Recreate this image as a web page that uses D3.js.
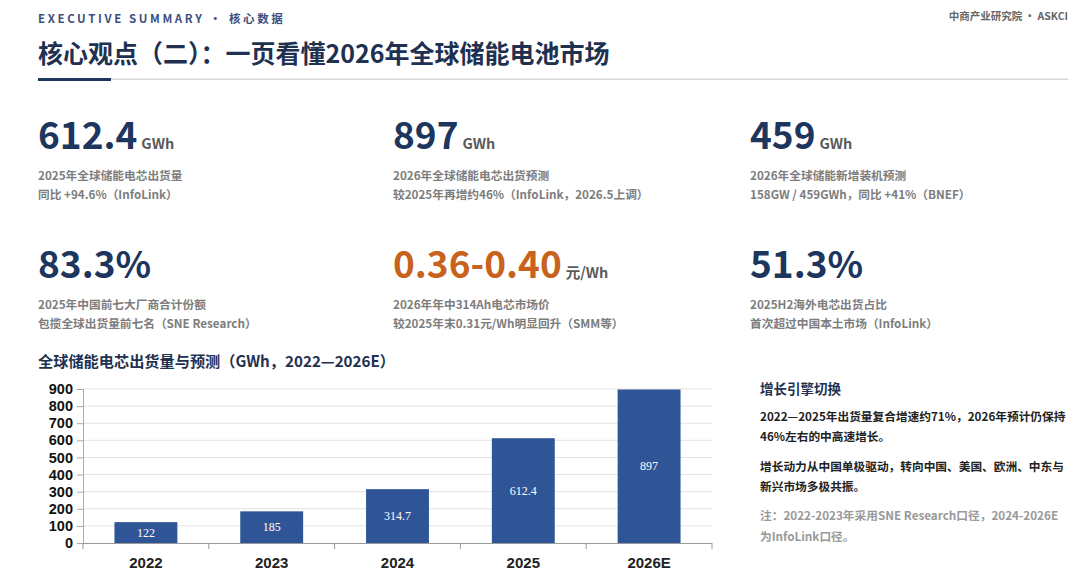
<!DOCTYPE html>
<html>
<head>
<meta charset="utf-8">
<script src="https://cdn.jsdelivr.net/npm/d3@7"></script>
<style>
  body { margin: 0; background: #fff; }
  svg { display: block; font-family: 'Noto Sans CJK SC', 'Noto Sans', sans-serif; }
</style>
</head>
<body>
<div id="page"></div>
<script>
// chart data
const years = ['2022', '2023', '2024', '2025', '2026E']
const shipments = [122, 185, 314.7, 612.4, 897]
const yTicks = [0, 100, 200, 300, 400, 500, 600, 700, 800, 900]

// kpi cards
const kpiValues = ['612.4', '897', '459', '83.3%', '0.36-0.40', '51.3%']
const kpiUnits = ['GWh', 'GWh', 'GWh', '', '元/Wh', '']
const kpiLine1 = [
    '2025年全球储能电芯出货量',
    '2026年全球储能电芯出货预测',
    '2026年全球储能新增装机预测',
    '2025年中国前七大厂商合计份额',
    '2026年年中314Ah电芯市场价',
    '2025H2海外电芯出货占比'
]
const kpiLine2 = [
    '同比 +94.6%（InfoLink）',
    '较2025年再增约46%（InfoLink，2026.5上调）',
    '158GW / 459GWh，同比 +41%（BNEF）',
    '包揽全球出货量前七名（SNE Research）',
    '较2025年末0.31元/Wh明显回升（SMM等）',
    '首次超过中国本土市场（InfoLink）'
]

const sideTitle = '增长引擎切换'
const sideLines = [
    '2022—2025年出货量复合增速约71%，2026年预计仍保持',
    '46%左右的中高速增长。',
    '增长动力从中国单极驱动，转向中国、美国、欧洲、中东与',
    '新兴市场多极共振。'
]
const noteLines = [
    '注：2022-2023年采用SNE Research口径，2024-2026E',
    '为InfoLink口径。'
]

const navy = '#1c365e'
const svg = d3.select('#page').append('svg')
    .attr('width', 1080)
    .attr('height', 581)

// header
svg.append('text')
    .attr('x', 38).attr('y', 23)
    .text('EXECUTIVE SUMMARY · 核心数据')
    .style('font-size', '11.5px')
    .style('font-weight', 'bold')
    .style('letter-spacing', '2.6px')
    .attr('fill', '#3d5080')

svg.append('text')
    .attr('x', 1068).attr('y', 20)
    .attr('text-anchor', 'end')
    .text('中商产业研究院 · ASKCI')
    .style('font-size', '10.5px')
    .style('font-weight', 'bold')
    .attr('fill', '#666')

svg.append('text')
    .attr('x', 38).attr('y', 63)
    .text('核心观点（二）：一页看懂2026年全球储能电池市场')
    .style('font-size', '25px')
    .style('font-weight', 'bold')
    .attr('fill', '#1f3150')

svg.append('rect')
    .attr('x', 38).attr('y', 78.5)
    .attr('width', 1030).attr('height', 1.5)
    .attr('fill', '#d6d6d6')
svg.append('rect')
    .attr('x', 38).attr('y', 78)
    .attr('width', 73).attr('height', 3)
    .attr('fill', navy)

// kpi cards
const colX = [38, 393, 750]
const rowY = [149, 278]
kpiValues.forEach((v, i) => {
    let g = svg.append('g')
        .attr('transform', `translate (${colX[i % 3]}, ${rowY[Math.floor(i / 3)]})`)
    let big = g.append('text')
    big.append('tspan')
        .text(v)
        .style('font-size', '37px')
        .style('font-weight', 'bold')
        .attr('fill', i === 4 ? '#c8621c' : navy)
    if (kpiUnits[i]) {
        big.append('tspan')
            .attr('dx', 4)
            .text(kpiUnits[i])
            .style('font-size', '14.5px')
            .style('font-weight', 'bold')
            .attr('fill', '#5a5a5a')
    }
    g.append('text')
        .attr('y', 31)
        .text(kpiLine1[i])
        .style('font-size', '11.7px')
        .style('font-weight', 'bold')
        .attr('fill', '#7d7d7d')
    g.append('text')
        .attr('y', 50)
        .text(kpiLine2[i])
        .style('font-size', '11.7px')
        .style('font-weight', 'bold')
        .attr('fill', '#7d7d7d')
})

// bar chart
svg.append('text')
    .attr('x', 38).attr('y', 367)
    .text('全球储能电芯出货量与预测（GWh，2022—2026E）')
    .style('font-size', '15.2px')
    .style('font-weight', 'bold')
    .attr('fill', '#1f3150')

const x = d3.scaleBand()
    .domain(years)
    .range([83, 712])
    .paddingInner(0.5)
    .paddingOuter(0.25)
const y = d3.scaleLinear()
    .domain([0, 900])
    .range([543, 389])

const chart = svg.append('g')

chart.append('g')
    .selectAll('line')
    .data(yTicks.slice(1))
    .join('line')
    .attr('x1', 83).attr('x2', 712)
    .attr('y1', d => y(d)).attr('y2', d => y(d))
    .attr('stroke', '#e2e2e2')

let yAxis = chart.append('g')
    .attr('transform', 'translate (83, 0)')
    .call(d3.axisLeft(y).tickValues(yTicks).tickSize(6).tickPadding(4))
yAxis.select('.domain').attr('stroke', '#aaa')
yAxis.selectAll('.tick line').attr('stroke', '#aaa')
yAxis.selectAll('.tick text')
    .style('font-family', "'Liberation Sans', Arial, sans-serif")
    .style('font-size', '14.5px')
    .style('font-weight', 'bold')
    .attr('fill', '#111')

chart.append('g')
    .selectAll('rect')
    .data(shipments)
    .join('rect')
    .attr('x', (d, i) => x(years[i]))
    .attr('y', d => y(d))
    .attr('width', x.bandwidth())
    .attr('height', d => y(0) - y(d))
    .attr('fill', '#2f5597')

chart.append('g')
    .selectAll('text')
    .data(shipments)
    .join('text')
    .attr('x', (d, i) => x(years[i]) + x.bandwidth() / 2)
    .attr('y', d => (y(d) + y(0)) / 2)
    .attr('text-anchor', 'middle')
    .attr('dominant-baseline', 'central')
    .text(d => d)
    .style('font-family', "'Liberation Serif', 'Times New Roman', serif")
    .style('font-size', '12px')
    .attr('fill', '#fff')

// x axis with ticks on band boundaries
chart.append('line')
    .attr('x1', 83).attr('x2', 712)
    .attr('y1', 543.5).attr('y2', 543.5)
    .attr('stroke', '#999')
chart.append('g')
    .selectAll('line')
    .data(d3.range(years.length + 1))
    .join('line')
    .attr('x1', i => 83 + i * x.step()).attr('x2', i => 83 + i * x.step())
    .attr('y1', 543).attr('y2', 549)
    .attr('stroke', '#999')
chart.append('g')
    .selectAll('text')
    .data(years)
    .join('text')
    .attr('x', d => x(d) + x.bandwidth() / 2)
    .attr('y', 568)
    .attr('text-anchor', 'middle')
    .text(d => d)
    .style('font-family', "'Liberation Sans', Arial, sans-serif")
    .style('font-size', '15px')
    .style('font-weight', 'bold')
    .attr('fill', '#222')

// side notes
svg.append('text')
    .attr('x', 760).attr('y', 394)
    .text(sideTitle)
    .style('font-size', '13.5px')
    .style('font-weight', 'bold')
    .attr('fill', '#1f3150')

const sideY = [421, 441, 471, 491]
sideLines.forEach((t, i) => {
    svg.append('text')
        .attr('x', 760).attr('y', sideY[i])
        .text(t)
        .style('font-size', '11.7px')
        .style('font-weight', 'bold')
        .attr('fill', '#222')
})
noteLines.forEach((t, i) => {
    svg.append('text')
        .attr('x', 760).attr('y', 520 + i * 21)
        .text(t)
        .style('font-size', '11.7px')
        .style('font-weight', 'bold')
        .attr('fill', '#999')
})
</script>
</body>
</html>
